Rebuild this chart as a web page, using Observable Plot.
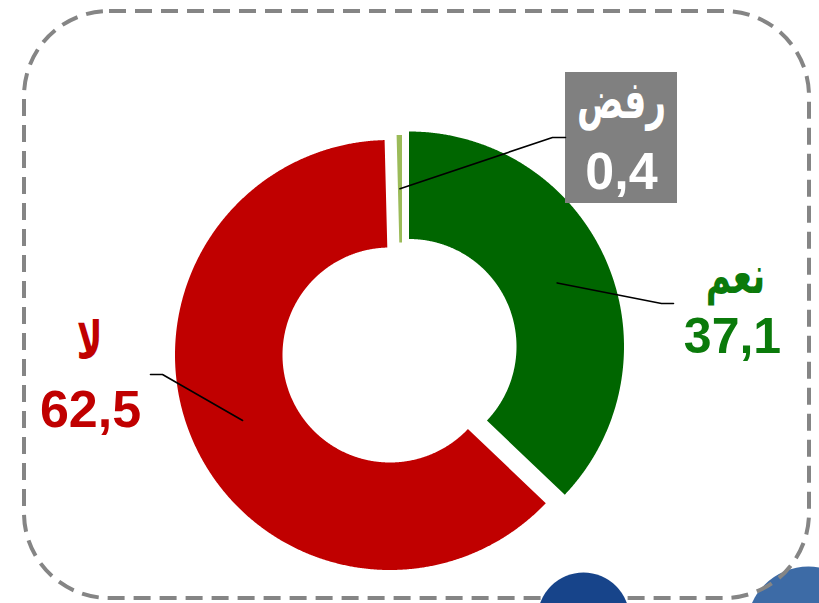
<!DOCTYPE html>
<html>
<head>
<meta charset="utf-8">
<script src="https://cdn.jsdelivr.net/npm/d3@7"></script>
<script src="https://cdn.jsdelivr.net/npm/@observablehq/plot@0.6"></script>
<style>
  html, body { margin: 0; padding: 0; background: #fff; overflow: hidden; }
  #chart svg { display: block; }
</style>
</head>
<body>
<div id="chart"></div>
<script>
// ---- data ----
const categories = ["نعم", "لا", "رفض"];
const values = [37.1, 62.5, 0.4];
const valueLabels = ["37,1", "62,5", "0,4"];

// ---- style / layout ----
const W = 819, H = 603;
const sliceColors = ["#006600", "#C00000", "#9BBB59"];
const textColors = ["#0B7A0B", "#C00000", "#FFFFFF"];
const cx = 389.5, cy = 354.5, rOuter = 215, rInner = 107.5;
const explode = [{dx: 19, dy: -8.5}, {dx: 0, dy: 0}, {dx: 12, dy: -5}];
// leader line elbow and end points (label side)
const leaderEnds = [
  [[661, 303], [673, 303]],
  [[162, 374], [150, 374]],
  [[552, 137], [565, 137]]
];
// label anchors
const labelPos = [
  {cx: 735, cy: 292, vx: 732, vy: 352, vs: 50},
  {cx: 89, cy: 358, vx: 90, vy: 426, vs: 52},
  {cx: 621, cy: 117, vx: 621, vy: 188, vs: 52}
];
const fontFamily = "Arial, 'Liberation Sans', 'DejaVu Sans', sans-serif";
const arabicFont = "'DejaVu Sans', sans-serif";

// ---- geometry from data ----
const arcs = d3.pie().sort(null).value(d => d)(values);
const polyPts = [];
arcs.forEach((a, i) => {
  const {dx, dy} = explode[i];
  const n = Math.max(4, Math.ceil((a.endAngle - a.startAngle) / 0.005));
  const outer = [], inner = [];
  for (let k = 0; k <= n; k++) {
    const t = a.startAngle + (a.endAngle - a.startAngle) * k / n;
    outer.push({x: cx + dx + rOuter * Math.sin(t), y: cy + dy - rOuter * Math.cos(t)});
    inner.push({x: cx + dx + rInner * Math.sin(t), y: cy + dy - rInner * Math.cos(t)});
  }
  for (const p of outer.concat(inner.reverse())) polyPts.push({...p, key: categories[i], color: sliceColors[i]});
});

const leaderPts = [];
arcs.forEach((a, i) => {
  const {dx, dy} = explode[i];
  const m = (a.startAngle + a.endAngle) / 2;
  const rm = (rOuter + rInner) / 2;
  leaderPts.push({x: cx + dx + rm * Math.sin(m), y: cy + dy - rm * Math.cos(m), key: categories[i]});
  for (const [x, y] of leaderEnds[i]) leaderPts.push({x, y, key: categories[i]});
});

const catText = categories.map((c, i) => ({text: c, x: labelPos[i].cx, y: labelPos[i].cy, color: textColors[i]}));
const valText = valueLabels.map((v, i) => ({text: v, x: labelPos[i].vx, y: labelPos[i].vy, color: textColors[i], size: labelPos[i].vs}));

const chart = Plot.plot({
  width: W,
  height: H,
  margin: 0,
  x: {domain: [0, W], range: [0, W], axis: null},
  y: {domain: [0, H], range: [0, H], axis: null},
  color: {type: "identity"},
  style: {background: "#fff", overflow: "hidden"},
  marks: [
    // decorative background blob (right)
    Plot.dot([0], {x: 808, y: 628, r: 62, fill: "#3D6BA6", stroke: null}),
    // dashed rounded border
    Plot.rect([0], {x1: 24, x2: 809, y1: 11, y2: 598, rx: 85, fill: "none", stroke: "#858585", strokeWidth: 4, strokeDasharray: "17,9"}),
    // decorative blob (left)
    Plot.dot([0], {x: 583, y: 618, r: 46, fill: "#17448A", stroke: null}),
    // slices
    Plot.line(polyPts, {x: "x", y: "y", z: "key", fill: "color", stroke: null, curve: "linear-closed"}),
    // label box for refusal
    Plot.rect([0], {x1: 565, x2: 677, y1: 72, y2: 203, fill: "#808080"}),
    // leader lines
    Plot.line(leaderPts, {x: "x", y: "y", z: "key", stroke: "#000", strokeWidth: 1.6}),
    // category labels
    Plot.text(catText, {x: "x", y: "y", text: "text", fill: "color", fontSize: 40, fontWeight: "bold", fontFamily: arabicFont, textAnchor: "middle", lineAnchor: "bottom"}),
    // value labels
    Plot.text(valText, {x: "x", y: "y", text: "text", fill: "color", fontSize: d => d.size, fontWeight: "bold", fontFamily, textAnchor: "middle", lineAnchor: "bottom"})
  ]
});
document.getElementById("chart").appendChild(chart);

// make the Arabic labels taller and narrower, like the original typeface
chart.querySelectorAll("text").forEach(t => {
  if (!categories.includes(t.textContent)) return;
  let tr = t.getAttribute("transform");
  if (!tr) {
    const x = +t.getAttribute("x") || 0, y = +t.getAttribute("y") || 0;
    t.removeAttribute("x"); t.removeAttribute("y");
    tr = `translate(${x},${y})`;
  }
  t.setAttribute("transform", tr + " scale(0.86,1.3)");
});
</script>
</body>
</html>
